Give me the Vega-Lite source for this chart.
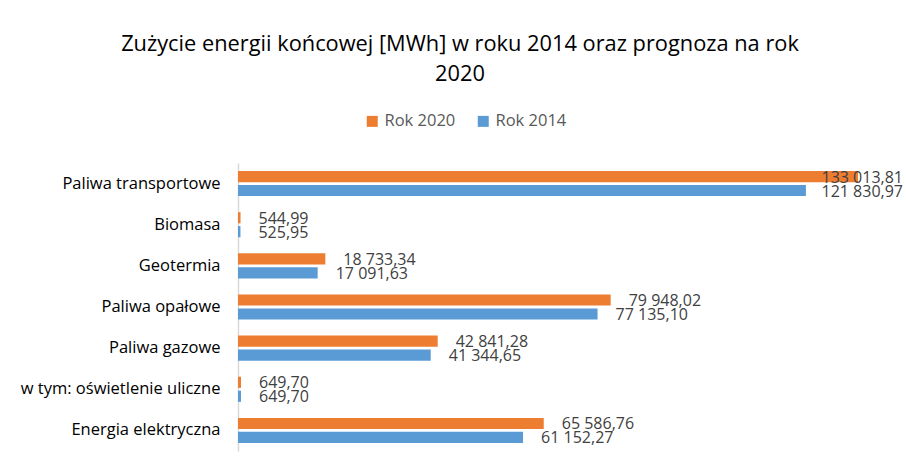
{
  "$schema": "https://vega.github.io/schema/vega-lite/v6.json",
  "autosize": "none",
  "width": 668,
  "height": 288,
  "padding": {"left": 238, "top": 163, "right": 0, "bottom": 17},
  "background": "white",
  "title": {
    "text": ["Zużycie energii końcowej [MWh] w roku 2014 oraz prognoza na rok", "2020"],
    "anchor": "middle",
    "frame": "group",
    "dx": -112,
    "offset": 27,
    "font": "Open Sans",
    "fontSize": 21.8,
    "fontWeight": "normal",
    "lineHeight": 30,
    "color": "#000000"
  },
  "data": {
    "values": [
      {"kategoria": "Paliwa transportowe", "seria": "Rok 2020", "wartosc": 133013.81},
      {"kategoria": "Paliwa transportowe", "seria": "Rok 2014", "wartosc": 121830.97},
      {"kategoria": "Biomasa", "seria": "Rok 2020", "wartosc": 544.99},
      {"kategoria": "Biomasa", "seria": "Rok 2014", "wartosc": 525.95},
      {"kategoria": "Geotermia", "seria": "Rok 2020", "wartosc": 18733.34},
      {"kategoria": "Geotermia", "seria": "Rok 2014", "wartosc": 17091.63},
      {"kategoria": "Paliwa opałowe", "seria": "Rok 2020", "wartosc": 79948.02},
      {"kategoria": "Paliwa opałowe", "seria": "Rok 2014", "wartosc": 77135.10},
      {"kategoria": "Paliwa gazowe", "seria": "Rok 2020", "wartosc": 42841.28},
      {"kategoria": "Paliwa gazowe", "seria": "Rok 2014", "wartosc": 41344.65},
      {"kategoria": "w tym: oświetlenie uliczne", "seria": "Rok 2020", "wartosc": 649.70},
      {"kategoria": "w tym: oświetlenie uliczne", "seria": "Rok 2014", "wartosc": 649.70},
      {"kategoria": "Energia elektryczna", "seria": "Rok 2020", "wartosc": 65586.76},
      {"kategoria": "Energia elektryczna", "seria": "Rok 2014", "wartosc": 61152.27}
    ]
  },
  "encoding": {
    "y": {
      "field": "kategoria",
      "type": "nominal",
      "sort": ["Paliwa transportowe", "Biomasa", "Geotermia", "Paliwa opałowe", "Paliwa gazowe", "w tym: oświetlenie uliczne", "Energia elektryczna"],
      "scale": {"paddingInner": 0.39, "paddingOuter": 0.195},
      "axis": {
        "title": null,
        "ticks": false,
        "grid": false,
        "domainColor": "#d9d9d9",
        "domainWidth": 1.5,
        "labelFont": "Open Sans",
        "labelFontSize": 16.5,
        "labelColor": "#000000",
        "labelPadding": 18,
        "labelLimit": 0
      }
    },
    "yOffset": {
      "field": "seria",
      "type": "nominal",
      "sort": ["Rok 2020", "Rok 2014"],
      "scale": {"paddingInner": 0.2}
    }
  },
  "layer": [
    {
      "mark": {"type": "bar"},
      "encoding": {
        "x": {
          "field": "wartosc",
          "type": "quantitative",
          "scale": {"domain": [0, 143300]},
          "axis": null
        },
        "color": {
          "field": "seria",
          "type": "nominal",
          "sort": ["Rok 2020", "Rok 2014"],
          "scale": {"domain": ["Rok 2020", "Rok 2014"], "range": ["#ED7D31", "#5B9BD5"]},
          "legend": {
            "title": null,
            "orient": "none",
            "direction": "horizontal",
            "legendX": 126,
            "legendY": -50,
            "symbolType": "square",
            "symbolSize": 121,
            "symbolStrokeWidth": 0,
            "labelFont": "Open Sans",
            "labelFontSize": 16.5,
            "labelColor": "#595959",
            "labelOffset": 4,
            "columnPadding": 19
          }
        }
      }
    },
    {
      "mark": {
        "type": "text",
        "align": "left",
        "baseline": "middle",
        "dx": 18,
        "dy": 1,
        "font": "Open Sans",
        "fontSize": 16,
        "color": "#404040"
      },
      "encoding": {
        "x": {
          "field": "wartosc",
          "type": "quantitative",
          "scale": {"domain": [0, 121300], "range": [0, 565.5], "clamp": true},
          "axis": null
        },
        "text": {"field": "wartosc", "type": "quantitative", "format": ",.2f"}
      }
    }
  ],
  "resolve": {"scale": {"x": "independent"}},
  "config": {
    "view": {"stroke": null},
    "locale": {
      "number": {"decimal": ",", "thousands": " ", "grouping": [3], "currency": ["", " zł"]}
    }
  }
}
